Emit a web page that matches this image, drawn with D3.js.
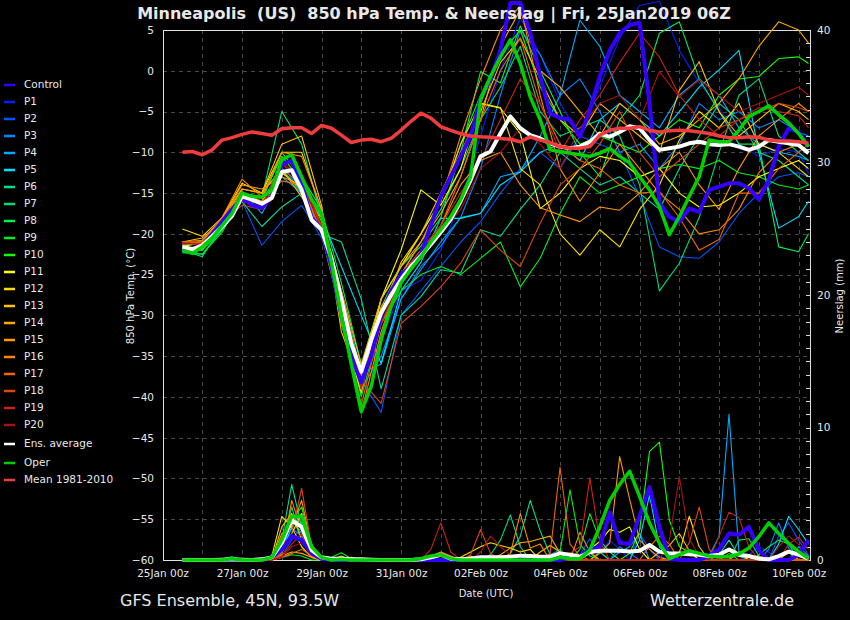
<!DOCTYPE html>
<html>
<head>
<meta charset="utf-8">
<script src="https://cdn.jsdelivr.net/npm/d3@7"></script>
<style>
  body { margin: 0; background: #000; }
  svg { display: block; }
  text { font-family: "DejaVu Sans", sans-serif; fill: #e8e8e8; white-space: pre; }
</style>
</head>
<body>
<svg id="chart" width="850" height="620"></svg>
<script>
// forecast hours after 25Jan 00z
var hours6 = [12,18,24,30,36,42,48,54,60,66,72,78,84,90,96,102,108,114,120,126,132,138,144,150,156,162,168,174,180,186,192,198,
  204,210,216,222,228,234,240,246,252,258,264,270,276,282,288,294,300,306,312,318,324,330,336,342,348,354,360,366,372,378,384,390];
var hours12 = [12,24,36,48,60,72,84,96,108,120,132,144,156,168,180,192,204,216,228,240,252,264,276,288,300,312,324,336,348,360,372,384,390];

var xTickHours = [0,48,96,144,192,240,288,336,384];
var tempTicks = [5,0,-5,-10,-15,-20,-25,-30,-35,-40,-45,-50,-55,-60];
var precTicks = [0,10,20,30,40];

var memberNames = ["P1","P2","P3","P4","P5","P6","P7","P8","P9","P10","P11","P12","P13","P14","P15","P16","P17","P18","P19","P20"];

// 850 hPa temperature, 12-hourly (hours12)
var tempP1  = [-21.9,-21.8,-18.5,-15.0,-16.8,-11.0,-15.5,-20.0,-29.0,-38.0,-33.0,-27.0,-25.7,-22.0,-16.0,-8.0,0.0,6.5,2.0,-4.0,-8.0,-2.0,4.0,8.0,8.5,2.5,-1.5,-4.5,-9.0,-10.5,-9.5,-10.0,-12.6];
var tempP2  = [-21.8,-21.5,-19.5,-16.0,-21.4,-18.5,-16.5,-20.5,-27.0,-38.0,-41.9,-30.0,-27.0,-24.0,-21.0,-18.5,-15.0,-12.0,-10.0,-12.0,-8.0,-9.0,-10.0,-15.4,-21.6,-22.8,-23.0,-21.0,-17.5,-15.0,-13.0,-12.5,-13.0];
var tempP3  = [-21.5,-21.0,-19.0,-15.8,-17.0,-12.5,-14.0,-19.0,-28.5,-39.0,-35.0,-28.0,-24.0,-21.5,-18.0,-12.0,-3.0,5.0,2.0,-3.0,-1.0,-5.0,-10.0,-9.0,-12.0,-9.0,-4.0,-6.0,-5.0,-7.0,-6.0,-7.5,-8.0];
var tempP4  = [-21.0,-21.5,-19.0,-14.8,-17.5,-13.0,-15.0,-19.5,-28.0,-37.0,-36.0,-28.0,-24.4,-21.0,-18.0,-17.5,-13.0,-12.4,-8.0,-3.0,6.2,3.0,-3.0,-5.0,-7.0,-3.0,-1.0,-3.0,-7.0,-9.0,-10.0,-10.5,-11.0];
var tempP5  = [-21.5,-20.8,-18.5,-15.2,-16.0,-12.0,-14.0,-18.0,-24.0,-30.0,-35.9,-27.0,-23.5,-18.1,-18.1,-17.5,-14.0,-12.4,-10.0,-9.0,-11.0,-6.0,-4.0,-6.0,-8.0,-5.0,-2.0,0.1,2.5,-10.0,-19.3,-17.9,-16.0];
var tempP6  = [-22.3,-22.5,-19.5,-16.0,-19.1,-16.7,-15.0,-20.0,-21.0,-28.0,-39.0,-30.0,-27.7,-24.4,-24.8,-19.5,-20.3,-17.0,-14.0,-10.0,-12.0,-14.0,-13.0,-15.0,-17.0,-12.0,-8.0,-4.0,-6.0,-10.0,-11.0,-13.0,-14.0];
var tempP7  = [-22.0,-22.8,-19.0,-15.0,-15.5,-5.0,-9.0,-18.0,-27.0,-37.0,-30.0,-25.0,-21.0,-17.0,-12.0,-6.0,-2.0,3.0,-5.0,-8.0,-7.0,-6.0,-8.0,-14.0,-27.0,-23.6,-18.0,-10.0,-3.0,-1.0,-8.0,-10.0,-11.0];
var tempP8  = [-22.0,-22.0,-19.5,-15.2,-16.0,-10.0,-13.0,-17.0,-26.0,-36.0,-28.0,-24.0,-21.5,-18.0,-10.0,-0.1,-1.5,5.5,0.0,-5.0,-10.0,-13.0,-6.0,-3.0,4.6,6.0,-1.0,-5.0,-9.0,-9.0,-21.6,-22.2,-20.0];
var tempP9  = [-22.0,-22.5,-19.8,-15.5,-16.0,-12.0,-15.0,-20.0,-30.0,-40.0,-31.0,-27.0,-25.0,-24.0,-25.0,-23.0,-21.0,-26.5,-23.0,-17.5,-13.0,-15.0,-14.0,-13.0,-12.0,-11.5,-12.0,-11.0,-12.5,-13.0,-14.0,-14.5,-14.0];
var tempP10 = [-21.8,-22.0,-19.0,-15.0,-15.5,-10.5,-13.5,-18.5,-28.0,-38.5,-29.0,-24.0,-20.0,-16.0,-9.0,-3.0,2.0,5.0,-2.0,-6.0,-9.0,-8.0,-9.0,-10.0,-8.0,-6.0,-7.0,-3.0,-1.0,-0.7,1.5,1.7,0.9];
var tempP11 = [-21.6,-21.0,-18.6,-15.5,-16.0,-12.5,-14.5,-19.0,-29.0,-37.0,-28.0,-22.0,-14.6,-16.5,-12.0,-4.0,-4.6,-7.7,-16.9,-15.0,-12.0,-10.5,-11.0,-13.0,-12.0,-15.0,-16.7,-16.5,-15.0,-13.0,-12.0,-11.0,-12.0];
var tempP12 = [-19.4,-20.3,-18.0,-13.8,-15.0,-10.0,-10.0,-17.0,-31.0,-39.5,-28.0,-24.0,-20.0,-16.0,-9.0,-4.0,-4.5,-12.0,-14.0,-20.0,-22.6,-19.5,-21.6,-17.0,-14.0,-8.5,-5.0,-7.0,-4.0,-9.0,-10.0,-12.0,-13.0];
var tempP13 = [-21.0,-20.5,-18.5,-14.5,-15.0,-9.0,-8.0,-16.5,-32.0,-38.5,-30.0,-23.5,-20.0,-15.0,-10.0,-5.0,1.0,4.0,-1.0,-6.0,-8.0,-4.0,-6.0,-8.0,-10.0,-2.4,1.1,-5.0,-8.0,-6.0,-4.0,-5.0,-6.0];
var tempP14 = [-21.5,-21.8,-18.0,-14.5,-15.0,-12.0,-15.5,-18.0,-27.0,-36.0,-28.0,-24.0,-21.0,-17.5,-13.0,-6.0,3.0,7.5,0.0,-2.0,-5.0,-8.0,-4.0,-6.0,-9.0,-8.0,-6.0,-4.0,-1.0,3.0,6.0,5.0,3.4];
var tempP15 = [-21.2,-21.0,-18.2,-14.0,-14.5,-13.0,-14.0,-19.5,-28.5,-37.5,-29.0,-25.0,-22.0,-19.0,-14.0,-11.0,-10.0,-14.0,-16.8,-17.7,-18.5,-16.7,-17.1,-15.0,-12.0,-10.0,-14.0,-17.0,-12.0,-8.0,-6.0,-4.0,-5.0];
var tempP16 = [-21.0,-20.8,-18.0,-13.3,-15.5,-10.0,-10.5,-17.0,-29.0,-42.0,-32.0,-25.0,-21.0,-16.0,-8.0,-1.0,5.0,8.0,-3.0,-12.0,-16.0,-12.5,-9.0,-12.0,-15.0,-17.0,-20.0,-19.5,-17.0,-12.5,-10.0,-9.0,-10.0];
var tempP17 = [-21.3,-21.0,-18.5,-14.8,-16.0,-13.5,-14.0,-20.0,-30.0,-41.0,-31.0,-26.0,-23.0,-19.0,-13.0,-6.0,0.0,4.0,-4.0,-9.0,-11.0,-12.0,-14.0,-15.0,-14.8,-18.0,-22.0,-20.7,-15.0,-15.0,-12.0,-10.0,-9.0];
var tempP18 = [-21.0,-21.0,-18.5,-16.5,-17.0,-12.0,-14.0,-19.0,-27.0,-38.0,-40.8,-31.0,-28.9,-26.5,-23.6,-19.5,-22.0,-24.0,-18.7,-14.0,-12.0,-9.0,-5.0,-10.0,-13.0,-11.0,-9.0,-7.0,-6.0,-5.0,-4.0,-4.5,-5.0];
var tempP19 = [-21.2,-21.2,-18.8,-15.5,-16.5,-11.5,-13.0,-19.0,-29.0,-39.0,-31.0,-25.0,-22.0,-19.0,-15.0,-11.0,-6.0,-1.0,-4.0,-10.0,-6.0,-3.0,1.0,4.6,1.7,-3.0,-6.0,-8.0,-6.0,-4.5,-5.0,-5.5,-7.0];
var tempP20 = [-21.1,-21.4,-19.0,-16.0,-17.0,-11.0,-13.5,-19.5,-28.0,-38.5,-30.0,-26.0,-23.0,-20.0,-17.0,-12.0,-10.0,-7.0,-9.0,-12.0,-7.0,-4.0,-3.0,-6.0,-0.1,-3.2,-1.1,-3.0,-5.0,-4.0,-3.0,-2.0,-3.0];

// 6-hourly lines (hours6)
var tempControl = [-21.8,-22.0,-21.5,-20.0,-18.5,-17.0,-15.6,-16.5,-16.8,-15.5,-11.5,-11.0,-14.0,-18.0,-19.5,-24.0,
  -30.0,-35.0,-38.2,-35.0,-30.0,-27.0,-25.0,-24.0,-22.5,-19.0,-15.4,-13.0,-10.5,-8.0,-3.6,-1.0,
  2.5,8.3,8.3,4.6,-0.7,-5.2,-5.8,-6.0,-8.1,-4.8,-0.7,2.5,4.6,5.6,5.9,-4.0,
  -16.2,-17.9,-18.5,-16.9,-17.3,-14.6,-14.2,-13.8,-13.8,-14.4,-15.8,-13.4,-9.3,-7.05,-7.5,-9.3];
var tempAverage = [-21.6,-21.9,-21.4,-20.3,-19.1,-17.8,-15.4,-15.8,-16.3,-15.6,-12.4,-12.2,-14.6,-18.3,-19.5,-23.0,
  -28.0,-33.5,-36.9,-33.0,-29.7,-27.5,-25.6,-24.0,-22.7,-21.3,-19.8,-18.2,-16.0,-13.4,-10.5,-9.9,
  -7.7,-5.6,-7.05,-7.9,-8.3,-8.9,-9.3,-9.5,-9.3,-8.7,-7.7,-8.1,-7.5,-6.8,-7.05,-8.5,
  -9.7,-9.5,-9.3,-8.9,-8.7,-9.0,-9.1,-9.0,-9.3,-9.7,-9.3,-8.5,-8.7,-8.9,-9.1,-10.1];
var tempOper = [-22.0,-22.4,-21.6,-20.5,-19.0,-17.5,-15.0,-15.4,-15.5,-14.6,-10.9,-10.3,-13.0,-15.8,-17.5,-23.5,
  -30.0,-36.0,-41.8,-38.7,-33.0,-28.9,-26.0,-24.3,-22.8,-21.0,-19.5,-17.9,-15.8,-13.0,-3.6,-0.7,
  1.7,3.8,0.9,-3.2,-6.0,-9.7,-9.9,-10.1,-10.3,-10.5,-10.1,-9.5,-10.5,-11.3,-13.0,-14.6,
  -16.7,-20.1,-17.9,-15.4,-13.0,-8.5,-8.7,-8.7,-7.3,-5.6,-5.0,-4.3,-5.4,-6.4,-7.7,-9.3];
var tempMean = [-10.0,-9.9,-10.3,-9.7,-8.5,-8.2,-7.8,-7.5,-7.7,-7.9,-7.1,-7.0,-7.0,-7.7,-6.7,-7.05,
  -7.9,-8.8,-8.5,-8.4,-8.7,-8.3,-7.3,-6.2,-5.2,-5.8,-6.85,-7.3,-7.7,-8.0,-8.1,-8.15,
  -8.3,-8.4,-8.7,-8.1,-8.5,-8.8,-9.3,-9.5,-9.5,-9.3,-7.9,-7.3,-7.05,-7.05,-6.85,-7.3,
  -7.5,-7.35,-7.3,-7.35,-7.5,-7.7,-8.0,-8.2,-8.2,-8.1,-8.15,-8.5,-8.6,-8.6,-8.7,-8.9];

// precipitation (mm / 6h), 6-hourly (hours6)
var precControl = [0,0,0,0,0,0,0,0, 0,0.2,0.8,1.8,1.5,0.5,0.1,0, 0,0,0,0,0,0,0,0, 0,0,0,0,0,0,0,0,
  0,0,0,0,0,0,0,0.2, 0.3,0.8,1.0,3.6,1.3,1.2,3.3,5.5, 2.5,0.1,0,0,0,0.3,0.8,2.0, 1.9,2.5,0.75,0,0,0,0.4,1.5];
var precAverage = [0,0,0,0,0.02,0.05,0.02,0, 0.05,0.2,1.3,3.0,2.5,0.75,0.2,0.1, 0.1,0.05,0.05,0.02,0,0,0,0, 0.05,0.2,0.4,0.1,0.05,0.1,0.2,0.2,
  0.2,0.25,0.33,0.3,0.25,0.25,0.5,0.4, 0.25,0.6,0.7,0.7,0.7,0.65,0.7,1.13, 0.63,0.5,0.5,0.43,0.4,0.3,0.4,0.8, 0.4,0.3,0.1,0.05,0.3,0.63,0.4,0.1];
var precOper = [0,0,0,0,0,0.1,0,0, 0,0.2,1.5,3.3,3.3,1.0,0.2,0, 0.05,0,0,0,0,0,0,0, 0.1,0.3,0.4,0.1,0,0,0,0,
  0,0,0,0,0,0,0.2,0.1, 0.1,0.75,2.5,4.5,5.7,6.7,4.8,2.8, 1.26,0.1,0.4,0.7,0.5,0.3,0.25,0.25, 0.45,0.9,1.76,2.8,2.0,1.26,0.63,0.1];

var precP1  = [0,0,0,0,0,0,0,0, 0,0,0.5,2.0,3.0,1.0,0.2,0, 0,0,0,0,0,0,0,0, 0,0,0,0,0,0,0,0, 0,0,0,0,0,0,0,0, 0,0,0.5,1.5,0.8,0,0,1.2, 0.3,0,0,0,0,0,0,0, 0,0.4,1.0,0.6,0,0,0,0];
var precP2  = [0,0,0,0,0,0,0,0, 0,0,0.3,1.5,2.5,0.8,0,0, 0,0,0,0,0,0,0,0, 0,0,0,0,0,0,0,0, 0,0,0,0,0,0,0,0, 0.4,1.6,0.6,0,0,0,2.0,0.8, 0,0,0,0,0,0,0,0, 0,0,0,0,1.8,2.8,1.5,0.4];
var precP3  = [0,0,0,0,0,0,0,0, 0,0,1.0,2.4,1.8,0.6,0,0, 0,0,0,0,0,0,0,0, 0,0,0,0,0,0,0,0, 0,0,0,0,0,0.4,0.8,0, 0,0,0,0,1.0,0.5,0,0, 0,0,0,0,0,0,0,0, 0,0,0,0.8,2.8,0.9,0,0];
var precP4  = [0,0,0,0,0,0,0,0, 0,0,0.8,3.0,2.0,0.5,0,0, 0,0,0,0,0,0,0,0, 0,0,0,0,0,0,0,0, 0,0,0,0,0,0,0,0, 0,0,0,0,0.6,1.0,2.0,0, 0,0,0,0,0,0.3,1.8,11.0, 0.6,0,0,0,0,0,1.0,0.3];
var precP5  = [0,0,0,0,0,0,0,0, 0,0,0.5,2.5,3.5,1.2,0,0, 0,0,0,0,0,0,0,0, 0,0,0,0,0,0,0,0, 0,0,0,0,0,0,0,0, 0,0.5,0,0,0,0,1.5,4.9, 1.0,0,0,0,0,0,0,0, 0,0,0,0,1.2,3.3,2.3,1.2];
var precP6  = [0,0,0,0,0.1,0.25,0,0, 0,0,1.5,5.7,2.5,0.5,0,0, 0,0,0,0,0,0,0,0, 0,0,0,0,0,0,0,0, 0,0.5,1.8,4.5,2.2,0.4,0,0, 0,0,0,0,0,0,0,0, 0,0,0,0,0,0,0.4,1.5, 0.3,0,0,0,0,0,0,0];
var precP7  = [0,0,0,0,0,0,0,0, 0,0,1.0,4.0,1.5,0.8,0,0, 0,0,0,0,0,0,0,0, 0,0,0,0,0,0,0,0.4, 1.5,3.4,1.0,0,0,0,0,0, 0,0,0.6,0,0,0,0,0, 0,0,0,0,0,0,0,0, 1.5,1.6,0.3,0,0,0,0,0];
var precP8  = [0,0,0,0,0,0.2,0,0, 0,0,0.6,3.5,2.8,0.3,0,0, 0,0,0,0,0,0,0,0, 0,0,0,0,0,0,0,0, 0,0,0,0,0,0,0,0, 0.8,3.5,1.5,0.6,0,0,0,0, 0,0,0,0,0,0,0,0, 0,0,0.4,1.0,1.5,1.2,0,0];
var precP9  = [0,0,0,0,0,0,0,0, 0,0,0.2,0.4,0.3,0,0,0.2, 0.55,0.1,0,0,0,0,0,0, 0,0,0,0,0,0,0,0, 0,0,0,0,0,0,0.6,5.3, 1.2,0.3,0,0,0,0,0,0, 0,0,0,0,0,0,0,0.5, 0,0,0,0,0,0,0,0];
var precP10 = [0,0,0,0,0,0,0,0, 0,0,1.2,3.0,4.0,1.0,0,0, 0,0,0,0,0,0,0,0, 0,0,0,0,0,0,0,0, 0,0,0,0,0,0,0,0, 0,0,0,0,0,0.5,2.2,8.2, 8.9,3.0,1.0,0.6,0,0,0,0, 0,0,0,0,0,0,0,0];
var precP11 = [0,0,0,0,0,0,0,0, 0,0,0.8,2.0,3.5,0.6,0,0, 0,0,0,0,0,0,0,0, 0,0,0,0,0,0,0,0, 0,0,0,0,0,0,0,0, 0.4,0.8,1.4,2.3,2.1,2.5,0.8,0, 0,0,0,0,0,0,0,0, 0,0,0,0,0,0,0.6,0];
var precP12 = [0,0,0,0,0,0,0,0, 0,0.3,3.3,2.5,1.0,0.2,0,0, 0.3,0,0,0,0,0,0,0, 0,0,0,0,0.2,0.6,1.0,1.3, 1.1,0.9,0.6,0.8,0,0,0,0, 0,0,0,0,0,0,0,0, 0,0,0.5,3.3,1.0,0,0,0, 0.6,0,0,0,0,0,0,0];
var precP13 = [0,0,0,0,0,0,0,0, 0,0,2.5,3.5,1.5,0.3,0,0, 0,0.2,0,0,0,0,0,0, 0,0,0,0,0,0.3,0,0, 0,0,0,0,0.6,1.1,0.6,0, 0,0,0,0,0,0,0,0, 0.6,1.1,2.0,0.7,0,0,0,0, 0,0,0,0,0,0,0,0];
var precP14 = [0,0,0,0,0,0,0,0, 0,0,0.3,0.6,0.5,0.2,0,0, 0,0,0.1,0,0,0,0,0, 0,0,0,0,0,0,0,0, 0.4,0.9,1.3,1.4,1.6,1.8,0.5,0, 0,0,0,0,0,0,0,0, 0,0,0,0,0,0,0,0, 0,0,0.3,0,0,0.6,0,0];
var precP15 = [0,0,0,0,0,0,0,0, 0,0,2.0,2.5,4.5,1.0,0,0, 0,0,0,0,0,0,0,0, 0,0,0,0,0,0,0,0, 0,0,0,0,0,0,0,0, 0,0,0.5,1.3,7.8,4.6,1.5,0.8, 0.2,0,0,0,0,0,0,0, 0,0,0,0,0,0,0,0];
var precP16 = [0,0,0,0,0,0,0,0, 0,0,0.4,4.5,2.2,0.4,0,0, 0,0,0,0,0,0,0,0, 0,0.3,0.6,0.3,0,0,0,0, 0,0.5,3.5,0.9,1.2,0,0,0, 2.1,0.6,0,0,0,0,0,0, 0,0,0,0,0,0,0,0, 0,0,0,0,0,0,0,0];
var precP17 = [0,0,0,0,0,0.15,0,0, 0,0,0.2,0.5,0.8,0.3,0,0, 0,0,0,0,0,0,0,0, 0,0,0,0,0,0,0,0, 0,0,0,0,0,0.5,7.0,1.2, 0.3,0,0,0,0,0,0,1.0, 1.8,1.2,0,0,0,0,0,0, 0,0,0,0,0,0,0,0];
var precP18 = [0,0,0,0,0,0,0,0, 0,0,0.5,2.0,5.4,1.0,0,0, 0,0,0,0,0,0,0,0, 0,0,0,0,0,0.4,2.3,0.5, 0,0,0,0,0,0,0,0, 0,0,0,0,0,0,0,0, 0,0,0,1.3,4.0,0.8,0,0, 0,0,0,0,0,0,0,0];
var precP19 = [0,0,0,0,0,0,0,0, 0,0,0.3,1.2,2.0,0.4,0,0, 0,0,0,0,0,0,0,0, 0,0.8,2.8,0.6,0,0,0,0, 0,0,0,0,0,0,0,0.5, 1.0,6.2,1.4,0,0,0,0,0, 0,0,0,0,0,0,1.8,3.6, 3.2,1.0,0,0,0,1.2,1.7,0.8];
var precP20 = [0,0,0,0,0,0,0,0, 0,0,0.2,1.0,1.3,0.5,0.1,0, 0,0,0,0,0,0,0,0, 0,0,0,0,0,0,0.6,1.8, 1.0,0.4,0,0,0,0,0,0, 0,0,0,0,0,0,0,0, 0,1.5,6.3,1.6,0.3,0,0,0, 0,0,0,0,1.0,1.8,1.2,0];

var memberTemps = [tempP1,tempP2,tempP3,tempP4,tempP5,tempP6,tempP7,tempP8,tempP9,tempP10,
                   tempP11,tempP12,tempP13,tempP14,tempP15,tempP16,tempP17,tempP18,tempP19,tempP20];
var memberPrecs = [precP1,precP2,precP3,precP4,precP5,precP6,precP7,precP8,precP9,precP10,
                   precP11,precP12,precP13,precP14,precP15,precP16,precP17,precP18,precP19,precP20];

// colours
var memberColors = ["#0022ff","#0055ff","#0088ff","#00aaff","#00ddff","#00dd99","#00dd77","#00ee55","#00ee22","#11ff00",
                    "#ffff00","#ffdd00","#ffc000","#ffaa00","#ff9900","#ff8800","#ee6600","#dd4411","#cc2211","#aa1111"];
var controlColor = "#3300ff";
var avgColor = "#ffffff";
var operColor = "#00d000";
var meanColor = "#f03c3c";

var svg = d3.select("#chart");
svg.append("rect").attr("width", 850).attr("height", 620).attr("fill", "#000");

var t0 = Date.UTC(2019, 0, 25, 0);
var HOUR = 3600 * 1000;
function toDate(h) { return new Date(t0 + h * HOUR); }

// plot box
var plotLeft = 163, plotRight = 811, plotTop = 30, plotBottom = 560;

var x = d3.scaleUtc()
    .domain([toDate(0), toDate(391.5)])
    .range([162.5, plotRight]);
var yT = d3.scaleLinear().domain([-60, 5]).range([plotBottom, plotTop]);
var yP = d3.scaleLinear().domain([0, 40]).range([plotBottom, plotTop]);

// grid
var grid = svg.append("g").attr("stroke", "#4a4a4a").attr("stroke-dasharray", "4,4").attr("stroke-width", 1);
var gridDays = d3.range(24, 391, 24);
grid.selectAll(".vg").data(gridDays).enter().append("line")
    .attr("x1", function (d) { return Math.round(x(toDate(d))) + 0.5; })
    .attr("x2", function (d) { return Math.round(x(toDate(d))) + 0.5; })
    .attr("y1", plotTop).attr("y2", plotBottom);
grid.selectAll(".hg").data(tempTicks.filter(function (d) { return d < 5 && d > -60; })).enter().append("line")
    .attr("x1", plotLeft).attr("x2", plotRight)
    .attr("y1", function (d) { return Math.round(yT(d)) + 0.5; })
    .attr("y2", function (d) { return Math.round(yT(d)) + 0.5; });

// axes
var axisLeft = d3.axisLeft(yT).tickValues(tempTicks).tickSize(0).tickPadding(9);
var gL = svg.append("g").attr("transform", "translate(" + plotLeft + ",0)").call(axisLeft);
var axisRight = d3.axisRight(yP).tickValues(precTicks).tickSize(0).tickPadding(6);
var gR = svg.append("g").attr("transform", "translate(" + plotRight + ",0)").call(axisRight);
var axisBottom = d3.axisBottom(x).tickValues(xTickHours.map(toDate)).tickSize(0).tickPadding(10)
    .tickFormat(d3.utcFormat("%d%b %Hz"));
var gB = svg.append("g").attr("transform", "translate(0," + plotBottom + ")").call(axisBottom);
[gL, gR, gB].forEach(function (g) {
    g.select(".domain").remove();
    g.selectAll("text").attr("fill", "#e8e8e8").style("font-size", "10.5px").style("font-family", "DejaVu Sans");
});

// right minor ticks, every 1 mm, inside
svg.append("g").selectAll("line").data(d3.range(1, 40)).enter().append("line")
    .attr("x1", plotRight - 5).attr("x2", plotRight)
    .attr("y1", function (d) { return Math.round(yP(d)) + 0.5; })
    .attr("y2", function (d) { return Math.round(yP(d)) + 0.5; })
    .attr("stroke", "#dddddd").attr("stroke-width", 1);

// frame
svg.append("rect").attr("x", plotLeft + 0.5).attr("y", plotTop + 0.5)
    .attr("width", plotRight - plotLeft - 1).attr("height", plotBottom - plotTop)
    .attr("fill", "none").attr("stroke", "#e0e0e0").attr("stroke-width", 1);

// lines
var tempLine12 = d3.line().x(function (d, i) { return x(toDate(hours12[i])); }).y(function (d) { return yT(d); });
var tempLine6 = d3.line().x(function (d, i) { return x(toDate(hours6[i])); }).y(function (d) { return yT(d); });
var precLine6 = d3.line().x(function (d, i) { return x(toDate(hours6[i])); }).y(function (d) { return yP(d); });

var gM = svg.append("g").attr("fill", "none").attr("stroke-linejoin", "round");
memberTemps.forEach(function (vals, i) {
    gM.append("path").attr("d", tempLine12(vals)).attr("stroke", memberColors[i]).attr("stroke-width", 1.1);
});
memberPrecs.forEach(function (vals, i) {
    gM.append("path").attr("d", precLine6(vals)).attr("stroke", memberColors[i]).attr("stroke-width", 1.1);
});

var thick = [
    { temp: tempControl, prec: precControl, color: controlColor, w: 4 },
    { temp: tempAverage, prec: precAverage, color: avgColor, w: 4 },
    { temp: tempOper, prec: precOper, color: operColor, w: 3.5 },
    { temp: tempMean, prec: null, color: meanColor, w: 3.5 }
];
thick.forEach(function (s) {
    gM.append("path").attr("d", tempLine6(s.temp)).attr("stroke", s.color).attr("stroke-width", s.w);
    if (s.prec) gM.append("path").attr("d", precLine6(s.prec)).attr("stroke", s.color).attr("stroke-width", s.w);
});

// legend
var legendItems = [{ name: "Control", color: controlColor, y: 84 }];
memberNames.forEach(function (n, i) { legendItems.push({ name: n, color: memberColors[i], y: 101 + 17 * i }); });
legendItems.push({ name: "Ens. average", color: avgColor, y: 443 });
legendItems.push({ name: "Oper", color: operColor, y: 462 });
legendItems.push({ name: "Mean 1981-2010", color: meanColor, y: 479 });
var leg = svg.append("g");
leg.selectAll("line").data(legendItems).enter().append("line")
    .attr("x1", 4).attr("x2", 15)
    .attr("y1", function (d) { return d.y + 1; }).attr("y2", function (d) { return d.y + 1; })
    .attr("stroke", function (d) { return d.color; }).attr("stroke-width", 2.5);
leg.selectAll("text").data(legendItems).enter().append("text")
    .attr("x", 24).attr("y", function (d) { return d.y + 4; })
    .style("font-size", "10.5px")
    .text(function (d) { return d.name; });

// titles
svg.append("text").attr("x", 434).attr("y", 19).attr("text-anchor", "middle")
    .style("font-size", "16px").style("font-weight", "bold").attr("fill", "#ffffff")
    .text("Minneapolis  (US)  850 hPa Temp. & Neerslag | Fri, 25Jan2019 06Z");
svg.append("text").attr("transform", "translate(134,296) rotate(-90)").attr("text-anchor", "middle")
    .style("font-size", "10px").text("850 hPa Temp. (°C)");
svg.append("text").attr("transform", "translate(843,296) rotate(-90)").attr("text-anchor", "middle")
    .style("font-size", "10px").text("Neerslag (mm)");
svg.append("text").attr("x", 486).attr("y", 597).attr("text-anchor", "middle")
    .style("font-size", "10px").text("Date (UTC)");
svg.append("text").attr("x", 120).attr("y", 606)
    .style("font-size", "16px").attr("fill", "#dddddd").text("GFS Ensemble, 45N, 93.5W");
svg.append("text").attr("x", 650).attr("y", 606)
    .style("font-size", "16px").attr("fill", "#dddddd").text("Wetterzentrale.de");
</script>
</body>
</html>
